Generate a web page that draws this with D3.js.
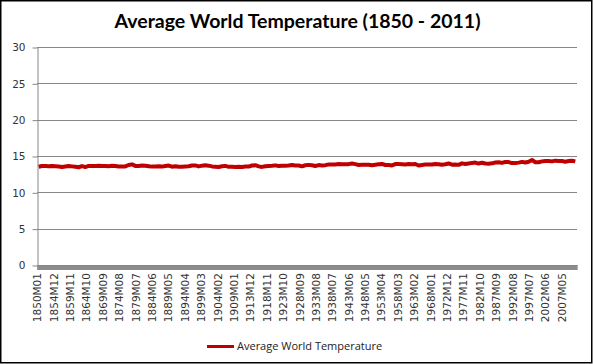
<!DOCTYPE html>
<html>
<head>
<meta charset="utf-8">
<script src="https://cdn.jsdelivr.net/npm/d3@7"></script>
<style>
  body { margin: 0; background: #fff; }
</style>
</head>
<body>
<div id="chart"></div>
<script>
// Annual average temperatures (deg C), 1850 - 2011
const years = d3.range(1850, 2012);
const temps = [
  13.52, 13.63, 13.63, 13.60, 13.61, 13.60, 13.56, 13.49, 13.56, 13.63,
  13.57, 13.51, 13.45, 13.61, 13.48, 13.63, 13.63, 13.61, 13.65, 13.63,
  13.62, 13.59, 13.65, 13.61, 13.56, 13.56, 13.57, 13.76, 13.85, 13.64,
  13.64, 13.68, 13.66, 13.60, 13.54, 13.54, 13.58, 13.54, 13.63, 13.69,
  13.53, 13.58, 13.52, 13.52, 13.56, 13.58, 13.69, 13.70, 13.57, 13.67,
  13.72, 13.67, 13.57, 13.53, 13.49, 13.59, 13.64, 13.51, 13.51, 13.49,
  13.51, 13.50, 13.54, 13.54, 13.69, 13.73, 13.57, 13.50, 13.60, 13.64,
  13.65, 13.71, 13.63, 13.65, 13.65, 13.69, 13.77, 13.69, 13.70, 13.58,
  13.73, 13.78, 13.73, 13.63, 13.75, 13.70, 13.74, 13.83, 13.84, 13.83,
  13.89, 13.88, 13.87, 13.88, 13.96, 13.88, 13.77, 13.81, 13.81, 13.80,
  13.72, 13.80, 13.86, 13.91, 13.76, 13.75, 13.70, 13.89, 13.90, 13.88,
  13.84, 13.89, 13.88, 13.90, 13.69, 13.77, 13.82, 13.83, 13.82, 13.91,
  13.87, 13.79, 13.86, 13.97, 13.80, 13.84, 13.78, 13.99, 13.90, 13.97,
  14.05, 14.09, 13.96, 14.08, 13.97, 13.94, 13.99, 14.10, 14.15, 14.05,
  14.19, 14.16, 14.02, 14.02, 14.09, 14.19, 14.10, 14.20, 14.45, 14.14,
  14.14, 14.26, 14.32, 14.32, 14.26, 14.36, 14.31, 14.30, 14.22, 14.30,
  14.35, 14.26
];
const monthNames = ["M01","M02","M03","M04","M05","M06","M07","M08","M09","M10","M11","M12"];
// monthly categories of the x axis
const months = years.flatMap(y => monthNames.map(m => y + m));
const tickLabels = [
  "1850M01","1854M12","1859M11","1864M10","1869M09","1874M08","1879M07","1884M06",
  "1889M05","1894M04","1899M03","1904M02","1909M01","1913M12","1918M11","1923M10",
  "1928M09","1933M08","1938M07","1943M06","1948M05","1953M04","1958M03","1963M02",
  "1968M01","1972M12","1977M11","1982M10","1987M09","1992M08","1997M07","2002M06",
  "2007M05"
];
const yTicks = [0, 5, 10, 15, 20, 25, 30];
const seriesName = "Average World Temperature";

const width = 593, height = 364;
const margin = { top: 47, right: 16, bottom: 99, left: 37 };
const lineColor = "#c00000";
const gridColor = "#878787";

const svg = d3.select("#chart").append("svg")
    .attr("width", width)
    .attr("height", height);

// Outer frame
svg.append("rect")
    .attr("x", 0.75).attr("y", 0.75)
    .attr("width", width - 2).attr("height", height - 2)
    .attr("fill", "#fff")
    .attr("stroke", "#000")
    .attr("stroke-width", 1.5);

// Scales
const x = d3.scaleBand()
    .domain(months)
    .range([margin.left, width - margin.right])
    .padding(0);

const y = d3.scaleLinear()
    .domain([0, 30])
    .range([height - margin.bottom, margin.top]);

// Gridlines
svg.append("g")
    .selectAll("line")
    .data(yTicks.slice(1))
    .enter()
    .append("line")
    .attr("x1", margin.left)
    .attr("x2", width - margin.right)
    .attr("y1", d => Math.round(y(d)) + 0.5)
    .attr("y2", d => Math.round(y(d)) + 0.5)
    .attr("stroke", gridColor);

// Y axis
const yAxis = svg.append("g")
    .attr("transform", `translate(${margin.left + 0.5},0.5)`)
    .call(d3.axisLeft(y).tickValues(yTicks).tickSize(5).tickPadding(7).tickSizeOuter(0));
yAxis.select(".domain").attr("stroke", gridColor);
yAxis.selectAll(".tick line").attr("stroke", gridColor);
yAxis.selectAll("text")
    .attr("fill", "#333")
    .style("font-family", "DejaVu Sans")
    .style("font-size", "10.5px");

// X axis: one tick per month, they merge into a grey band
const xAxis = svg.append("g")
    .attr("transform", `translate(0,${height - margin.bottom})`)
    .call(d3.axisBottom(x).tickValues(months).tickSize(5).tickFormat("").tickSizeOuter(0));
xAxis.select(".domain").attr("stroke", gridColor);
xAxis.selectAll(".tick line").attr("stroke", gridColor).attr("stroke-width", 0.6);

// X tick labels
const xLabels = svg.append("g")
    .attr("transform", `translate(0,${height - margin.bottom})`)
    .call(d3.axisBottom(x).tickValues(tickLabels).tickSize(0).tickPadding(8));
xLabels.select(".domain").remove();
xLabels.selectAll("text")
    .attr("transform", "rotate(-90)")
    .attr("text-anchor", "end")
    .attr("x", -8)
    .attr("y", 0)
    .attr("dy", "0.36em")
    .attr("fill", "#333")
    .style("font-family", "DejaVu Sans")
    .style("font-size", "10.5px");

// Line (annual values placed mid-year on the monthly axis)
const xYear = yr => x(yr + "M06") + x.bandwidth();
const line = d3.line()
    .x((d, i) => xYear(years[i]))
    .y(d => y(d));

svg.append("path")
    .datum(temps)
    .attr("fill", "none")
    .attr("stroke", lineColor)
    .attr("stroke-width", 4)
    .attr("stroke-linejoin", "round")
    .attr("d", line);

// Title
svg.append("text")
    .attr("x", width / 2 + 1)
    .attr("y", 28)
    .attr("text-anchor", "middle")
    .style("font-family", "Lato")
    .style("font-weight", "bold")
    .style("font-size", "19.5px")
    .text("Average World Temperature (1850 - 2011)");

// Legend
const legend = svg.append("g");
legend.append("line")
    .attr("x1", 207).attr("x2", 234)
    .attr("y1", 346.5).attr("y2", 346.5)
    .attr("stroke", lineColor)
    .attr("stroke-width", 3);
legend.append("text")
    .attr("x", 237)
    .attr("y", 350)
    .style("font-family", "Open Sans")
    .style("font-size", "11px")
    .attr("fill", "#222")
    .text(seriesName);
</script>
</body>
</html>
